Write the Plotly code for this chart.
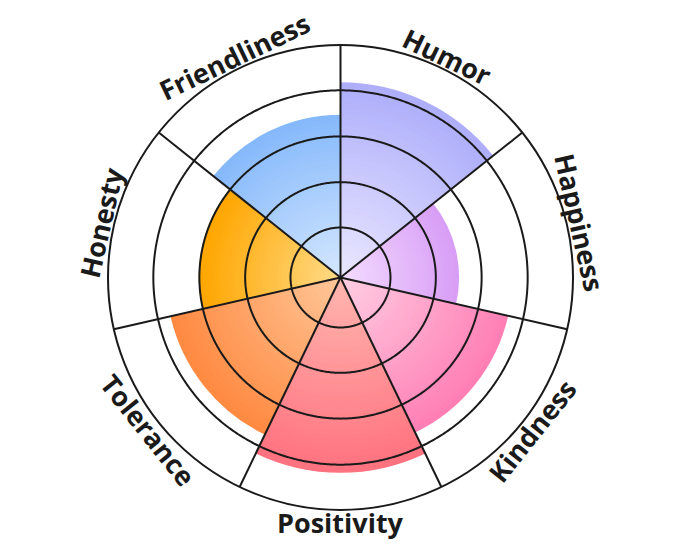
import math
import plotly.graph_objects as go

# ---- data ----
categories = ["Humor", "Happiness", "Kindness", "Positivity", "Tolerance", "Honesty", "Friendliness"]
values = [84, 51, 74, 84, 75, 61, 70]
ring_values = [21.5, 41.0, 60.7, 80.5]
radial_max = 100

# colours (outer edge / near centre) per category
outer_colors = ["#aeaefb", "#d89ef6", "#ff7fb5", "#ff7280", "#ff8a42", "#ffa600", "#86b9fb"]
inner_colors = ["#ebe8ff", "#f4ddff", "#ffd0e4", "#ffb8b0", "#ffc89a", "#ffdc8a", "#d6e8ff"]

# ---- geometry / style ----
W, H = 680, 557
ML, MT = 108, 45
PW = PH = 465
MR, MB = W - ML - PW, H - MT - PH
CX, CY = ML + PW / 2, MT + PH / 2
n = len(categories)
step = 360 / n
theta_centers = [step * (i + 0.5) for i in range(n)]
boundaries = [step * i for i in range(n)]
LINE = "#1a1a1a"


def hex2rgb(h):
    h = h.lstrip("#")
    return tuple(int(h[i:i + 2], 16) for i in (0, 2, 4))


def mix(c1, c2, t):
    a, b = hex2rgb(c1), hex2rgb(c2)
    return "rgb(%d,%d,%d)" % tuple(round(a[j] + (b[j] - a[j]) * t) for j in range(3))


fig = go.Figure()
N = 36
for k in range(N):
    frac = (N - k) / N
    fig.add_trace(go.Barpolar(
        r=[v * frac for v in values],
        theta=theta_centers,
        width=[step] * n,
        marker=dict(color=[mix(inner_colors[i], outer_colors[i], frac) for i in range(n)],
                    line=dict(width=0)),
        hoverinfo="skip" if k else "all",
        text=categories,
        showlegend=False,
    ))

# ring lines and sector dividers drawn above the bars
circle_theta = [d * 0.5 for d in range(721)]
for rv in ring_values:
    fig.add_trace(go.Scatterpolar(
        r=[rv] * len(circle_theta), theta=circle_theta, mode="lines",
        line=dict(color=LINE, width=2), hoverinfo="skip", showlegend=False,
    ))
sp_r, sp_t = [], []
for b in boundaries:
    sp_r += [0, radial_max, None]
    sp_t += [b, b, None]
fig.add_trace(go.Scatterpolar(
    r=sp_r, theta=sp_t, mode="lines", line=dict(color=LINE, width=2),
    hoverinfo="skip", showlegend=False,
))

annotations = []
R_LABEL = 245
for i, name in enumerate(categories):
    phi = 90 - theta_centers[i]
    pr = math.radians(phi)
    px = CX + R_LABEL * math.cos(pr)
    py = CY - R_LABEL * math.sin(pr)
    if math.sin(pr) > 0:
        ang = 90 - phi
    else:
        ang = -(phi + 90)
    while ang > 180:
        ang -= 360
    while ang < -180:
        ang += 360
    annotations.append(dict(
        x=(px - ML) / PW, y=(MT + PH - py) / PH, xref="paper", yref="paper",
        text="<b>%s</b>" % name, showarrow=False, textangle=ang,
        xanchor="center", yanchor="middle",
        font=dict(family="Open Sans", size=27, color=LINE),
    ))

fig.update_layout(
    width=W, height=H,
    margin=dict(l=ML, r=MR, t=MT, b=MB),
    paper_bgcolor="white",
    plot_bgcolor="white",
    showlegend=False,
    annotations=annotations,
    polar=dict(
        domain=dict(x=[0, 1], y=[0, 1]),
        bgcolor="white",
        barmode="overlay",
        radialaxis=dict(range=[0, radial_max], showticklabels=False, ticks="",
                        showline=False, showgrid=False),
        angularaxis=dict(direction="clockwise", rotation=90, tickvals=boundaries,
                         showticklabels=False, ticks="", showgrid=False,
                         showline=True, linecolor=LINE, linewidth=2),
    ),
)

fig.write_html(
    "out.html",
    config={"displayModeBar": False},
    post_script="document.body.style.margin='0';document.body.style.overflow='hidden';",
)
